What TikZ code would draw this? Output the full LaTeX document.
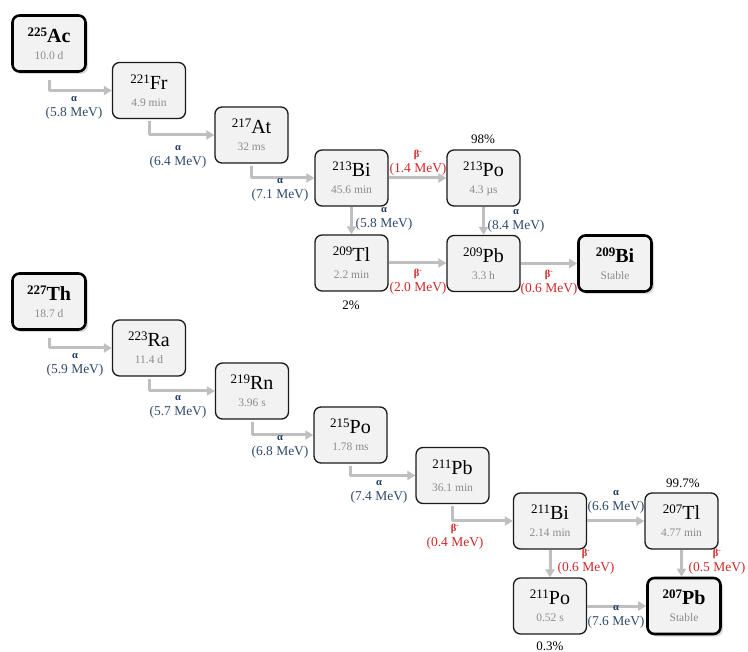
\documentclass[tikz,border=0pt]{standalone}
\usepackage{fontspec}
\setmainfont{Liberation Serif}
\usetikzlibrary{arrows.meta,shadows}
\definecolor{boxfill}{HTML}{F2F2F2}
\definecolor{boxdraw}{HTML}{1A1A1A}
\definecolor{arrowgray}{HTML}{BFBFBF}
\definecolor{halfgray}{HTML}{8C8C8C}
\definecolor{alphablue}{HTML}{1F3864}
\definecolor{mevblue}{HTML}{2E4A6B}
\definecolor{betared}{HTML}{D02828}
\newcommand\isosup[1]{\raisebox{6pt}{\fontsize{13}{13}\selectfont #1}}
\newcommand\nucl[3]{\rule{0pt}{17pt}{\fontsize{20}{20}\selectfont\isosup{#1}#2}\\\rule[-2.5pt]{0pt}{0pt}{\fontsize{11.5}{17}\selectfont\color{halfgray}#3}}
\newcommand\nuclb[3]{\rule{0pt}{17pt}{\fontsize{20}{20}\selectfont\bfseries\isosup{#1}#2}\\\rule[-2.5pt]{0pt}{0pt}{\fontsize{11.5}{17}\selectfont\color{halfgray}#3}}
\newcommand\alphalab[1]{{\fontsize{10.5}{10}\selectfont\bfseries\color{alphablue}α}\\(#1 MeV)}
\newcommand\betalab[1]{{\fontsize{10.5}{10}\selectfont\bfseries β\textsuperscript{-}}\\(#1 MeV)}
\tikzset{
  nuc/.style={draw=boxdraw, line width=1.3pt, fill=boxfill, rounded corners=7pt,
    minimum width=73pt, minimum height=56pt, inner sep=0pt, align=center,
    font=\fontsize{11.5}{17}\selectfont},
  endnuc/.style={nuc, draw=black, line width=2.6pt,
    drop shadow={shadow xshift=2.5pt, shadow yshift=-2.5pt, opacity=0.3}},
  decay/.style={draw=arrowgray, line width=3pt, line join=round,
    -{Triangle[length=8pt,width=9pt]}},
  lab/.style={align=center, inner sep=0pt, font=\fontsize{13.5}{15}\selectfont},
  alab/.style={lab, text=mevblue},
  blab/.style={lab, text=betared},
  pct/.style={inner sep=0pt, font=\fontsize{13}{15}\selectfont},
}
\begin{document}
\begin{tikzpicture}[x=1pt,y=-1pt]
\useasboundingbox (0,0) rectangle (748,652);
% ---- top chain
\node[endnuc] (ac225) at (49,43.5) {\nuclb{225}{Ac}{10.0 d}};
\node[nuc] (fr221) at (149,90.5) {\nucl{221}{Fr}{4.9 min}};
\node[nuc] (at217) at (251.5,135) {\nucl{217}{At}{32 ms}};
\node[nuc] (bi213) at (351.5,178) {\nucl{213}{Bi}{45.6 min}};
\node[nuc] (po213) at (483.5,178) {\nucl{213}{Po}{4.3 µs}};
\node[nuc] (tl209) at (351.5,263) {\nucl{209}{Tl}{2.2 min}};
\node[nuc] (pb209) at (483.5,263.5) {\nucl{209}{Pb}{3.3 h}};
\node[endnuc] (bi209) at (615,263.5) {\nuclb{209}{Bi}{Stable}};

\draw[decay, shorten <=7pt] (ac225.south) |- (fr221.west);
\draw[decay, shorten <=2pt] (fr221.south) |- (at217.west);
\draw[decay, shorten <=2pt] (at217.south) |- (bi213.west);
\draw[decay] (bi213.east) -- (bi213.east -| po213.west);
\draw[decay] (bi213.south) -- (bi213.south |- tl209.north);
\draw[decay] (po213.south) -- (po213.south |- pb209.north);
\draw[decay] (tl209.east) -- (tl209.east -| pb209.west);
\draw[decay] (pb209.east) -- (pb209.east -| bi209.west);

\node[alab] (l1) at (74,108) {\alphalab{5.8}};
\node[alab] (l2) at (178,157) {\alphalab{6.4}};
\node[alab] (l3) at (280,190) {\alphalab{7.1}};
\node[alab] (l4) at (384,219) {\alphalab{5.8}};
\node[blab] (l5) at (418,163) {\betalab{1.4}};
\node[alab] (l6) at (516,221) {\alphalab{8.4}};
\node[blab] (l7) at (418,282) {\betalab{2.0}};
\node[blab] (l8) at (549,283) {\betalab{0.6}};
\node[pct] (p98) at (483,139) {98\%};
\node[pct] (p2) at (351,305) {2\%};

% ---- bottom chain
\node[endnuc] (th227) at (49,301.5) {\nuclb{227}{Th}{18.7 d}};
\node[nuc] (ra223) at (149,348) {\nucl{223}{Ra}{11.4 d}};
\node[nuc] (rn219) at (252,391) {\nucl{219}{Rn}{3.96 s}};
\node[nuc] (po215) at (350.5,435) {\nucl{215}{Po}{1.78 ms}};
\node[nuc] (pb211) at (452.5,475.5) {\nucl{211}{Pb}{36.1 min}};
\node[nuc] (bi211) at (550,521) {\nucl{211}{Bi}{2.14 min}};
\node[nuc] (tl207) at (681.5,521) {\nucl{207}{Tl}{4.77 min}};
\node[nuc] (po211) at (550,606) {\nucl{211}{Po}{0.52 s}};
\node[endnuc] (pb207) at (684,606) {\nuclb{207}{Pb}{Stable}};

\draw[decay, shorten <=7pt] (th227.south) |- (ra223.west);
\draw[decay, shorten <=2pt] (ra223.south) |- (rn219.west);
\draw[decay, shorten <=2pt] (rn219.south) |- (po215.west);
\draw[decay, shorten <=2pt] (po215.south) |- (pb211.west);
\draw[decay, shorten <=2pt] (pb211.south) |- (bi211.west);
\draw[decay] (bi211.east) -- (bi211.east -| tl207.west);
\draw[decay] (bi211.south) -- (bi211.south |- po211.north);
\draw[decay] (tl207.south) -- (tl207.south |- pb207.north);
\draw[decay] (po211.east) -- (po211.east -| pb207.west);

\node[alab] (m1) at (75,365) {\alphalab{5.9}};
\node[alab] (m2) at (178,407) {\alphalab{5.7}};
\node[alab] (m3) at (280,447) {\alphalab{6.8}};
\node[alab] (m4) at (379,492) {\alphalab{7.4}};
\node[blab] (m5) at (455,537) {\betalab{0.4}};
\node[alab] (m6) at (616,502) {\alphalab{6.6}};
\node[blab] (m7) at (586,562) {\betalab{0.6}};
\node[blab] (m8) at (717,562) {\betalab{0.5}};
\node[alab] (m9) at (616,617) {\alphalab{7.6}};
\node[pct] (p997) at (683,483) {99.7\%};
\node[pct] (p03) at (550,646) {0.3\%};
\end{tikzpicture}
\end{document}
